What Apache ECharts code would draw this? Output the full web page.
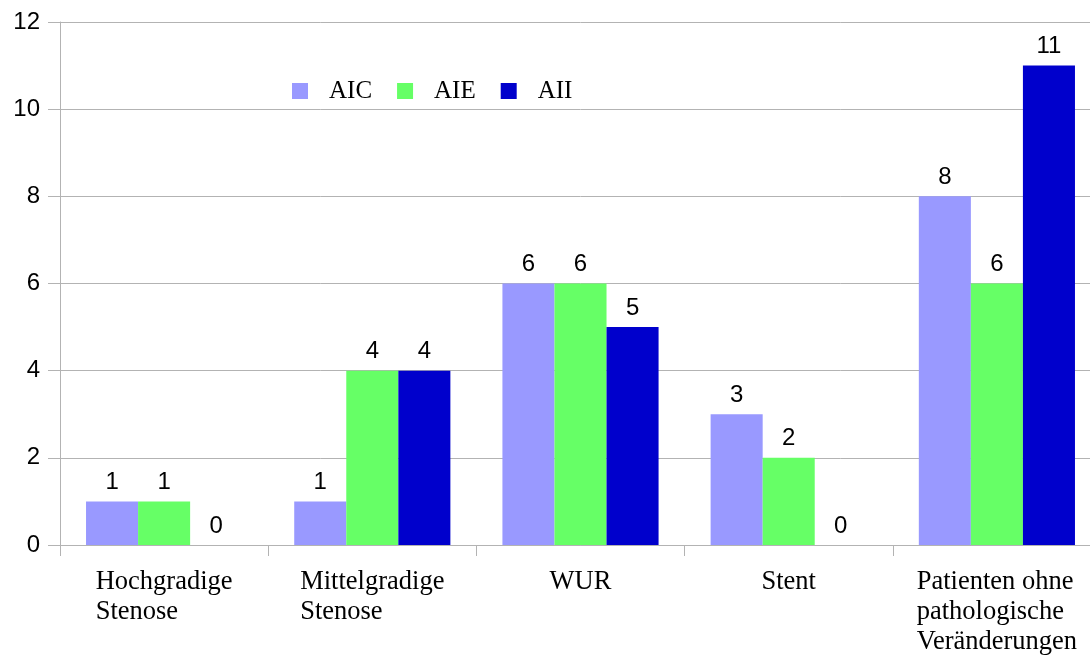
<!DOCTYPE html>
<html>
<head>
<meta charset="utf-8">
<script src="https://cdn.jsdelivr.net/npm/echarts@6/dist/echarts.min.js"></script>
<style>
  html, body { margin: 0; padding: 0; background: #ffffff; overflow: hidden; }
  #frame { width: 1090px; height: 657px; overflow: hidden; position: relative; }
  /* drawing surface is a little wider than the frame; the plot runs off the right edge */
  #chart { width: 1101px; height: 657px; position: absolute; left: 0; top: 0; }
</style>
</head>
<body>
<div id="frame"><div id="chart"></div></div>
<script>
// Categories (multi-line labels) and counts per group
const categories = [
  'Hochgradige\nStenose',
  'Mittelgradige\nStenose',
  'WUR',
  'Stent',
  'Patienten ohne\npathologische\nVeränderungen'
];
const aicValues = [1, 1, 6, 3, 8];
const aieValues = [1, 4, 6, 2, 6];
const aiiValues = [0, 4, 5, 0, 11];
const yTicks = { min: 0, max: 12, interval: 2 };

const SANS = '"Liberation Sans", Arial, sans-serif';
const SERIF = '"Liberation Serif", "Times New Roman", serif';
const GRAY = '#b3b3b3';

const valueLabel = {
  show: true,
  position: 'top',
  distance: 7,
  color: '#000000',
  fontFamily: SANS,
  fontSize: 24
};

function barSeries(name, data, color) {
  return {
    name: name,
    type: 'bar',
    data: data,
    barGap: '0%',
    barCategoryGap: '25%',
    itemStyle: { color: color },
    label: valueLabel,
    emphasis: { disabled: true }
  };
}

const chart = echarts.init(document.getElementById('chart'), null, { renderer: 'canvas' });
chart.setOption({
  animation: false,
  backgroundColor: '#ffffff',
  grid: { left: 60, top: 22, right: 0, bottom: 108, containLabel: false },
  legend: {
    left: 292,
    top: 78,
    padding: 0,
    itemWidth: 16,
    itemHeight: 16,
    itemGap: 25,
    icon: 'rect',
    textStyle: {
      fontFamily: SERIF,
      fontSize: 25,
      lineHeight: 26,
      color: '#000000',
      padding: [0, 0, 0, 16]
    },
    data: ['AIC', 'AIE', 'AII']
  },
  xAxis: {
    type: 'category',
    data: categories,
    boundaryGap: true,
    axisLine: { show: true, lineStyle: { color: GRAY, width: 1 } },
    axisTick: { show: true, length: 11, lineStyle: { color: GRAY } },
    axisLabel: {
      interval: 0,
      margin: 22,
      color: '#000000',
      fontFamily: SERIF,
      fontSize: 26.5,
      lineHeight: 30,
      formatter: function (v) {
        return v.split('\n').map(function (l) { return '{t|' + l + '}'; }).join('\n');
      },
      rich: {
        t: { align: 'left', fontFamily: SERIF, fontSize: 26.5, lineHeight: 30, color: '#000000' }
      }
    }
  },
  yAxis: {
    type: 'value',
    min: yTicks.min,
    max: yTicks.max,
    interval: yTicks.interval,
    axisLine: { show: true, lineStyle: { color: GRAY, width: 1 } },
    axisTick: { show: true, length: 12, lineStyle: { color: GRAY } },
    splitLine: { show: true, lineStyle: { color: GRAY, width: 1 } },
    axisLabel: {
      margin: 20,
      color: '#000000',
      fontFamily: SANS,
      fontSize: 24
    }
  },
  series: [
    barSeries('AIC', aicValues, '#9999ff'),
    barSeries('AIE', aieValues, '#66ff66'),
    barSeries('AII', aiiValues, '#0000cc')
  ]
});
</script>
</body>
</html>
